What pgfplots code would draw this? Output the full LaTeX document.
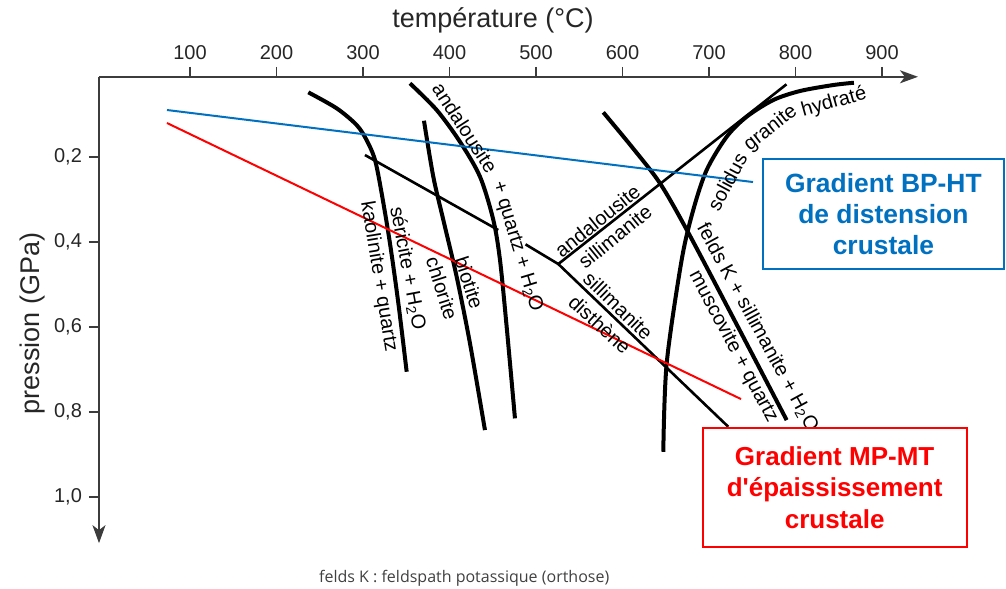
\documentclass[border=0pt]{standalone}
\usepackage{pgfplots}
\pgfplotsset{compat=1.18}
\usetikzlibrary{arrows.meta}
\usepackage{fontspec}
\setmainfont{Liberation Sans}
\newfontfamily\footfont{Open Sans}
\definecolor{gblue}{RGB}{0,112,192}
\definecolor{gred}{RGB}{255,0,0}
\definecolor{axgray}{RGB}{60,60,60}
\newcommand\lbl{\fontsize{10}{12}\selectfont}
\begin{document}
\begin{tikzpicture}
\begin{axis}[
  scale only axis, width=409.5pt, height=233.2pt,
  xmin=-5.2, xmax=941.6, ymin=0.011, ymax=1.109,
  y dir=reverse,
  axis x line=top, axis y line=left,
  axis line style={axgray, line width=0.9pt, -{Stealth[length=9pt,width=6.5pt,inset=2.5pt]}},
  xtick={100,200,300,400,500,600,700,800,900},
  ytick={0.2,0.4,0.6,0.8,1.0},
  tick align=outside, major tick length=5pt,
  tick style={axgray, line width=0.7pt},
  /pgf/number format/assume math mode=true,
  yticklabel style={/pgf/number format/.cd, use comma, fixed, fixed zerofill, precision=1},
  ticklabel style={font=\fontsize{10}{12}\selectfont, text=black!85},
  clip=false,
]
% reaction curves (thick)
\addplot[black, line width=2pt, smooth] coordinates {
 (236.8,0.0476) (269.6,0.0852) (292.7,0.1246) (304.2,0.1600) (313.9,0.2069)
 (321.6,0.2854) (331.2,0.4031) (340.9,0.5444) (350.5,0.7054)};
\addplot[black, line width=2pt, smooth] coordinates {
 (354.3,0.0264) (385.2,0.0892) (412.1,0.1639) (435.3,0.2463) (450.7,0.3482)
 (458.4,0.4424) (466.1,0.5995) (475.7,0.8152)};
\addplot[black, line width=2pt, smooth] coordinates {
 (370.5,0.1144) (381.3,0.2463) (392.9,0.3482) (408.3,0.4817) (423.7,0.6386) (441.0,0.8427)};
\addplot[black, line width=2pt, smooth] coordinates {
 (577.8,0.0947) (611.0,0.1764) (643.4,0.2618) (675.7,0.3765) (732.4,0.5955) (789.8,0.8192)};
\addplot[black, line width=2pt, smooth] coordinates {
 (647.2,0.8938) (651.1,0.6857) (668.4,0.4424) (681.8,0.3247) (697.3,0.2305)
 (720.5,0.1521) (743.6,0.1050) (774.3,0.0657) (805.2,0.0445) (843.7,0.0304) (867.6,0.0250)};
% thinner reaction lines
\addplot[black, line width=1.3pt] coordinates {(302.3,0.1952) (456.4,0.3718)};
\addplot[black, line width=1.3pt] coordinates {(487.9,0.4055) (525.8,0.4518)};
\addplot[black, line width=1.3pt] coordinates {(525.8,0.4518) (789.6,0.0287)};
\addplot[black, line width=1.3pt] coordinates {(525.8,0.4518) (722.3,0.8349)};
% gradients
\addplot[gblue, line width=1pt] coordinates {(73.4,0.0892) (750.9,0.2588)};
\addplot[gred, line width=1pt] coordinates {(73.4,0.1198) (737.0,0.7697)};
% curve labels
\node[rotate=-57.1, font=\lbl] at (axis cs:418,0.131) {andalousite};
\node[rotate=-73.2, font=\lbl] at (axis cs:478,0.411) {+ quartz + H\textsubscript{2}O};
\node[rotate=-80.7, font=\lbl] at (axis cs:318,0.4818) {kaolinite + quartz};
\node[rotate=-79.3, font=\lbl] at (axis cs:351.5,0.462) {séricite + H\textsubscript{2}O};
\node[rotate=-72.5, font=\lbl] at (axis cs:391.5,0.509) {chlorite};
\node[rotate=-72, font=\lbl] at (axis cs:423,0.4954) {biotite};
\node[rotate=38.5, font=\lbl] at (axis cs:571.1,0.350) {andalousite};
\node[rotate=39, font=\lbl] at (axis cs:591.3,0.3876) {sillimanite};
\node[rotate=-44.3, font=\lbl] at (axis cs:595.1,0.5503) {sillimanite};
\node[rotate=-42.4, font=\lbl] at (axis cs:574.0,0.5936) {disthène};
\node[rotate=62, font=\lbl] at (axis cs:721,0.258) {solidus};
\node[rotate=38, font=\lbl] at (axis cs:771.5,0.1323) {granite};
\node[rotate=15.8, font=\lbl] at (axis cs:844.5,0.0716) {hydraté};
\node[rotate=-61.4, font=\lbl] at (axis cs:756.1,0.6014) {felds K + sillimanite + H\textsubscript{2}O};
\node[rotate=-61.9, font=\lbl] at (axis cs:728.1,0.6466) {muscovite + quartz};
% boxes
\draw[gblue, line width=1pt, fill=white] (axis cs:762.4,0.2046) rectangle (axis cs:1041.0,0.4636);
\node[gblue, font=\bfseries\fontsize{13.2}{15.5}\selectfont, align=center] at (axis cs:901.7,0.334) {Gradient BP-HT\\de distension\\crustale};
\draw[gred, line width=1pt, fill=white] (axis cs:693.1,0.8387) rectangle (axis cs:998.6,1.1175);
\node[gred, font=\bfseries\fontsize{13}{15.7}\selectfont, align=center] at (axis cs:845.3,0.978) {Gradient MP-MT\\d\textquotesingle épaississement\\crustale};
% axis titles
\node[font=\fontsize{13.5}{16}\selectfont, text=black!85] at (axis cs:450.3,-0.1227) {température (°C)};
\node[rotate=90, font=\fontsize{13.5}{16}\selectfont, text=black!85] at (axis cs:-81.5,0.592) {pression (GPa)};
% footer
\node[font=\footfont\fontsize{8}{10}\selectfont, text=black!75] at (axis cs:417,1.191) {felds K : feldspath potassique (orthose)};
\coordinate (bbTL) at (axis cs:-119.65,-0.1698);
\coordinate (bbBR) at (axis cs:1043.4,1.2147);
\end{axis}
\pgfresetboundingbox
\path[use as bounding box] (bbTL) rectangle (bbBR);
\end{tikzpicture}
\end{document}
